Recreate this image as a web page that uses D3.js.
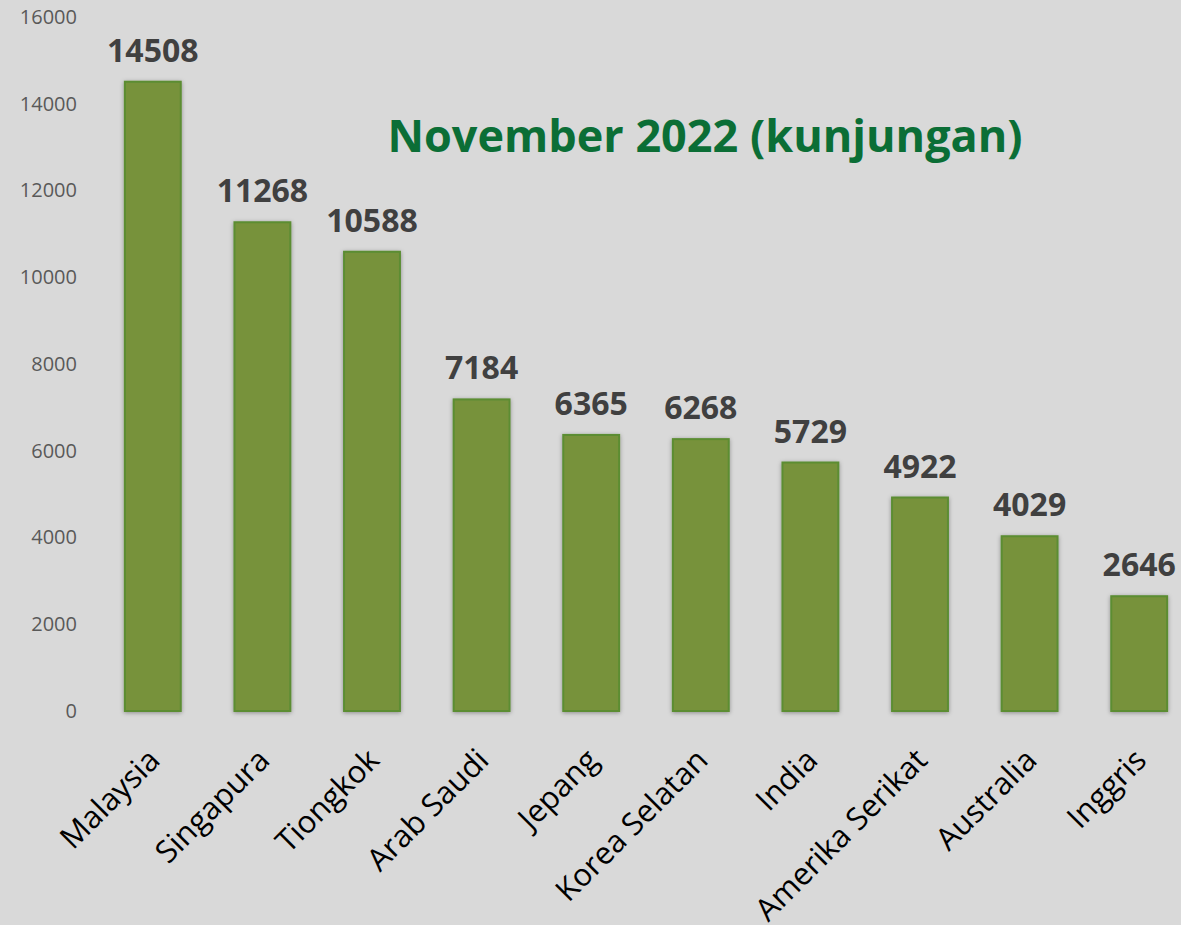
<!DOCTYPE html>
<html>
<head>
<meta charset="utf-8">
<script src="https://cdn.jsdelivr.net/npm/d3@7"></script>
<style>
  body { margin: 0; background: #d9d9d9; }
  svg { display: block; }
</style>
</head>
<body>
<svg width="1181" height="925"></svg>
<script>
// data
const countries = ["Malaysia", "Singapura", "Tiongkok", "Arab Saudi", "Jepang",
  "Korea Selatan", "India", "Amerika Serikat", "Australia", "Inggris"];
const visits = [14508, 11268, 10588, 7184, 6365, 6268, 5729, 4922, 4029, 2646];
const yTicks = [0, 2000, 4000, 6000, 8000, 10000, 12000, 14000, 16000];
const title = "November 2022 (kunjungan)";

const svg = d3.select("svg");
const width = +svg.attr("width");
const height = +svg.attr("height");

svg.append("rect")
  .attr("width", width)
  .attr("height", height)
  .attr("fill", "#d9d9d9");

// soft shadow under the bars
const defs = svg.append("defs");
const shadow = defs.append("filter")
  .attr("id", "shadow")
  .attr("x", "-20%").attr("y", "-5%")
  .attr("width", "140%").attr("height", "110%");
shadow.append("feDropShadow")
  .attr("dx", 0).attr("dy", 1)
  .attr("stdDeviation", 2)
  .attr("flood-color", "#000")
  .attr("flood-opacity", 0.35);

const x = d3.scaleBand()
  .domain(countries)
  .range([98, 1194])
  .paddingInner(0.49)
  .paddingOuter(0.245);

const y = d3.scaleLinear()
  .domain([0, 16000])
  .range([711, 17]);

// y axis, labels only
const yAxis = svg.append("g")
  .attr("transform", "translate(77,0)")
  .call(d3.axisLeft(y).tickValues(yTicks).tickSize(0).tickPadding(0).tickFormat(d3.format("d")));
yAxis.select(".domain").remove();
yAxis.selectAll("text")
  .attr("fill", "#595959")
  .style("font-family", "'Open Sans', sans-serif")
  .style("font-size", "20px");

// bars
svg.append("g")
  .selectAll("rect")
  .data(visits)
  .enter().append("rect")
    .attr("x", function(d, i) { return x(countries[i]); })
    .attr("y", function(d) { return y(d); })
    .attr("width", x.bandwidth())
    .attr("height", function(d) { return y(0) - y(d); })
    .attr("fill", "#77923b")
    .attr("stroke", "#5b8d33")
    .attr("stroke-width", 2)
    .attr("filter", "url(#shadow)");

// value labels
svg.append("g")
  .selectAll("text")
  .data(visits)
  .enter().append("text")
    .attr("x", function(d, i) { return x(countries[i]) + x.bandwidth() / 2; })
    .attr("y", function(d) { return y(d) - 20; })
    .attr("text-anchor", "middle")
    .attr("fill", "#404040")
    .style("font-family", "'Open Sans', sans-serif")
    .style("font-weight", "bold")
    .style("font-size", "32px")
    .text(function(d) { return d; });

// category labels, rotated
svg.append("g")
  .selectAll("text")
  .data(countries)
  .enter().append("text")
    .attr("transform", function(d) {
      return "translate(" + (x(d) + x.bandwidth() / 2 + 9) + ",762) rotate(-45)";
    })
    .attr("text-anchor", "end")
    .attr("fill", "#000")
    .style("font-family", "'Open Sans', sans-serif")
    .style("font-size", "31px")
    .text(function(d) { return d; });

// title
svg.append("text")
  .attr("x", 705)
  .attr("y", 152)
  .attr("text-anchor", "middle")
  .attr("fill", "#0b6e36")
  .style("font-family", "'Open Sans', sans-serif")
  .style("font-weight", "bold")
  .style("font-size", "45px")
  .text(title);
</script>
</body>
</html>
